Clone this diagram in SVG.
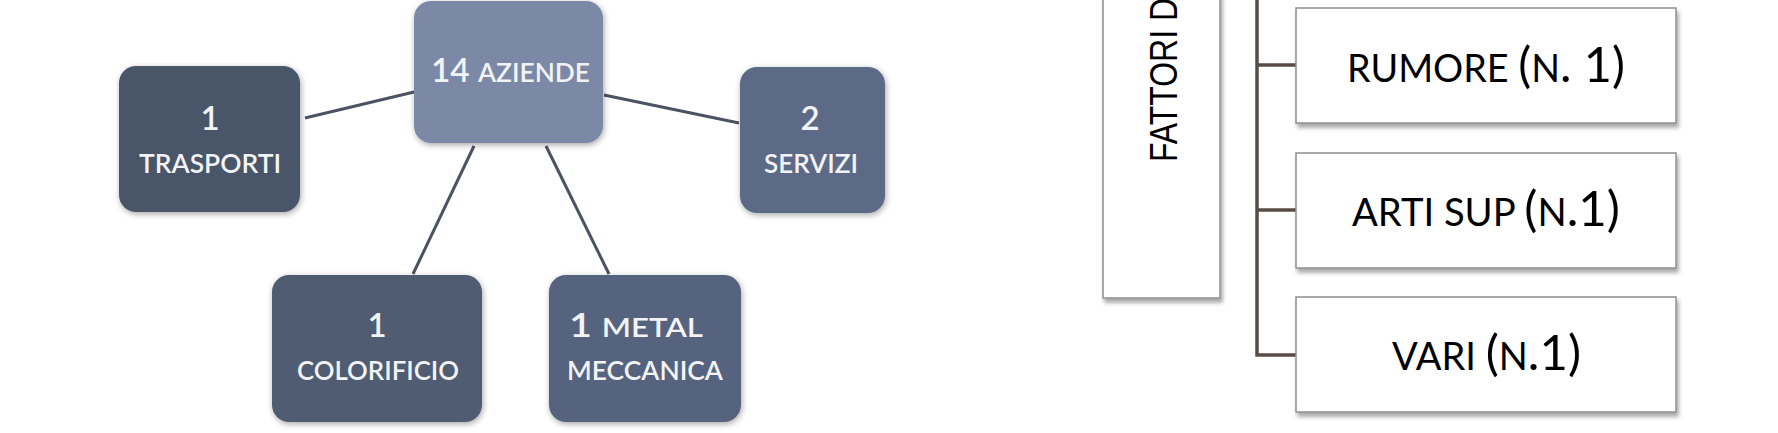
<svg xmlns="http://www.w3.org/2000/svg" width="1778" height="433" viewBox="0 0 1778 433">
<defs>
<filter id="sh1" x="-20%" y="-20%" width="140%" height="140%">
<feGaussianBlur in="SourceAlpha" stdDeviation="3"/>
<feOffset dx="1" dy="2"/>
<feComponentTransfer><feFuncA type="linear" slope="0.35"/></feComponentTransfer>
<feMerge><feMergeNode/><feMergeNode in="SourceGraphic"/></feMerge>
</filter>
<filter id="sh2" x="-10%" y="-10%" width="130%" height="130%">
<feGaussianBlur in="SourceAlpha" stdDeviation="2"/>
<feOffset dx="2" dy="4"/>
<feComponentTransfer><feFuncA type="linear" slope="0.35"/></feComponentTransfer>
<feMerge><feMergeNode/><feMergeNode in="SourceGraphic"/></feMerge>
</filter>
</defs>
<style>
.rb{filter:url(#sh1)}
.lt{font-family:Lato,"Open Sans","Liberation Sans",sans-serif;fill:#F2F3F5;font-weight:600}
.big{font-size:33px}
.sc{font-size:26px}
.wb{fill:#FFFFFF;stroke:#8E8E8E;stroke-width:1.5;filter:url(#sh2)}
.rt{font-family:Lato,"Open Sans","Liberation Sans",sans-serif;fill:#000000}
.rbig{font-size:49px}
.rsc{font-size:38px}
.cl{stroke:#4B5262;stroke-width:3;fill:none}
.cr{stroke:#5A4B45;stroke-width:3.5;fill:none}
</style>
<rect width="1778" height="433" fill="#FFFFFF"/>
<g id="connectors">
<line class="cl" x1="305" y1="118" x2="414" y2="92"/>
<line class="cl" x1="604" y1="95" x2="739" y2="123"/>
<line class="cl" x1="474" y1="146" x2="413" y2="274"/>
<line class="cl" x1="546" y1="146" x2="609" y2="274"/>
<polyline class="cr" points="1257,0 1257,355 1296,355"/>
<line class="cr" x1="1257" y1="65" x2="1296" y2="65"/>
<line class="cr" x1="1257" y1="210" x2="1296" y2="210"/>
</g>
<g id="n-aziende">
<rect class="rb" x="414" y="1" width="189" height="142" rx="17" fill="#7C89A6"/>
<text class="lt" x="431" y="82" textLength="159" lengthAdjust="spacingAndGlyphs"><tspan class="big">14 </tspan><tspan class="sc">AZIENDE</tspan></text>
</g>
<g id="n-trasporti">
<rect class="rb" x="119" y="66" width="181" height="146" rx="17" fill="#4A5467"/>
<text class="lt" text-anchor="middle"><tspan class="big" x="210" y="130">1</tspan><tspan class="sc" x="210" y="173" textLength="142" lengthAdjust="spacingAndGlyphs">TRASPORTI</tspan></text>
</g>
<g id="n-servizi">
<rect class="rb" x="740" y="67" width="145" height="146" rx="17" fill="#5D6B87"/>
<text class="lt" text-anchor="middle"><tspan class="big" x="810" y="130">2</tspan><tspan class="sc" x="811" y="173" textLength="94" lengthAdjust="spacingAndGlyphs">SERVIZI</tspan></text>
</g>
<g id="n-colorificio">
<rect class="rb" x="272" y="275" width="210" height="147" rx="17" fill="#4F5B71"/>
<text class="lt" text-anchor="middle"><tspan class="big" x="377" y="337">1</tspan><tspan class="sc" x="378" y="380" textLength="162" lengthAdjust="spacingAndGlyphs">COLORIFICIO</tspan></text>
</g>
<g id="n-metal">
<rect class="rb" x="549" y="275" width="192" height="147" rx="17" fill="#57647E"/>
<text class="lt" text-anchor="middle"><tspan x="636" y="337" textLength="134" lengthAdjust="spacingAndGlyphs"><tspan class="big">1 </tspan><tspan class="sc">METAL</tspan></tspan><tspan class="sc" x="645" y="380" textLength="156" lengthAdjust="spacingAndGlyphs">MECCANICA</tspan></text>
</g>
<g id="n-fattori">
<rect class="wb" x="1103" y="-6" width="117" height="304"/>
<text transform="translate(1177,162) rotate(-90) scale(0.82,1)" font-family="'Liberation Sans',Arial,sans-serif" font-size="39" fill="#000000">FATTORI D</text>
</g>
<g id="n-rumore">
<rect class="wb" x="1296" y="8" width="380" height="115"/>
<text class="rt" x="1347" y="82" textLength="278" lengthAdjust="spacingAndGlyphs"><tspan class="rsc">RUMORE </tspan><tspan class="rbig">(</tspan><tspan class="rsc">N</tspan><tspan class="rbig">. 1)</tspan></text>
</g>
<g id="n-arti">
<rect class="wb" x="1296" y="153" width="380" height="115"/>
<text class="rt" x="1352" y="226" textLength="268" lengthAdjust="spacingAndGlyphs"><tspan class="rsc">ARTI SUP </tspan><tspan class="rbig">(</tspan><tspan class="rsc">N</tspan><tspan class="rbig">.1)</tspan></text>
</g>
<g id="n-vari">
<rect class="wb" x="1296" y="297" width="380" height="115"/>
<text class="rt" x="1392" y="370" textLength="189" lengthAdjust="spacingAndGlyphs"><tspan class="rsc">VARI </tspan><tspan class="rbig">(</tspan><tspan class="rsc">N</tspan><tspan class="rbig">.1)</tspan></text>
</g>
</svg>
